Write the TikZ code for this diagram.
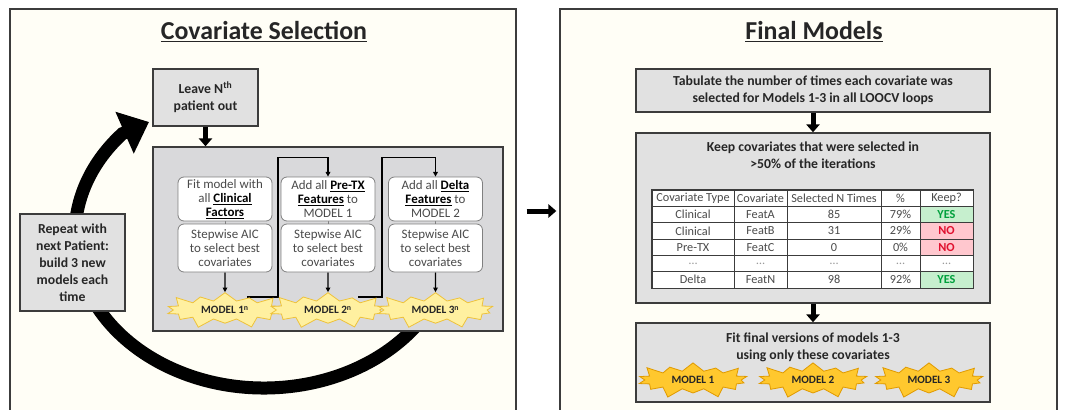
\documentclass[tikz,border=0pt]{standalone}
\usepackage{fontspec}
\setmainfont{Carlito}
\usetikzlibrary{arrows.meta,shapes.symbols,matrix}

\def\px{0.75pt}
\definecolor{panelcream}{HTML}{FFFEF6}
\definecolor{framegray}{HTML}{3C3C3C}
\definecolor{boxgray}{HTML}{E1E1E1}
\definecolor{innergray}{HTML}{D9D9DB}
\definecolor{roundgray}{HTML}{808080}
\definecolor{txtgray}{HTML}{4A4A4A}
\definecolor{paleburst}{HTML}{FFF0A0}
\definecolor{paleedge}{HTML}{EEC23A}
\definecolor{goldburst}{HTML}{FFC82E}
\definecolor{goldedge}{HTML}{E09A00}
\definecolor{yesfill}{HTML}{C6EFCE}
\definecolor{yestext}{HTML}{00A03C}
\definecolor{nofill}{HTML}{FFC7CE}
\definecolor{notext}{HTML}{E0102E}

\pgfdeclarelayer{back}
\pgfdeclarelayer{wires}
\pgfsetlayers{back,wires,main}

\newcommand{\featword}[1]{\textbf{\textcolor{black}{\underline{#1}}}}

\tikzset{
  panel/.style={rectangle, draw=framegray, line width=1pt, fill=panelcream, inner sep=0pt},
  heading/.style={font=\fontsize{19.4}{22}\selectfont\bfseries, text=black!85},
  graybox/.style={rectangle, draw=framegray, line width=1.1pt, fill=boxgray, inner sep=2pt,
    align=center, font=\fontsize{10.3}{12.75}\selectfont\bfseries, text=black!85},
  boldtext/.style={align=center, font=\fontsize{10.3}{12.75}\selectfont\bfseries, text=black!85},
  stepbox/.style={rectangle, draw=roundgray, line width=0.6pt, fill=white, rounded corners=4.5pt,
    minimum width=94*\px, align=center, inner sep=1pt, font=\fontsize{9.7}{10.5}\selectfont, text=txtgray},
  burst/.style={starburst, starburst points=14, starburst point height=8.5pt,
    inner xsep=9.5pt, inner ysep=2pt, line width=0.6pt,
    font=\fontsize{8.4}{10}\selectfont\bfseries, text=black!85},
  paleburst/.style={burst, fill=paleburst, draw=paleedge},
  goldburst/.style={burst, fill=goldburst, draw=goldedge},
  wire/.style={line width=0.8pt, -{Triangle[length=3.5pt,width=3.5pt]}},
  blockarrow/.style={line width=3.75pt, -{Triangle[length=6pt,width=10pt]}},
  looparrow/.style={line width=9.75pt, -{Triangle[length=20pt,width=33pt]}},
  yescell/.style={fill=yesfill, text=yestext, font=\fontsize{9.2}{10}\selectfont\bfseries},
  nocell/.style={fill=nofill, text=notext, font=\fontsize{9.2}{10}\selectfont\bfseries}
}

\begin{document}
\begin{tikzpicture}[x=\px,y=-\px]
\useasboundingbox (0,0) rectangle (1070,410);
\coordinate (loopstart) at (427.7,311.5);
\coordinate (looptip) at (149,122);

\begin{pgfonlayer}{back}
\node[panel, minimum width=506*\px, minimum height=404*\px] (selpanel) at (263,211) {};
\node[panel, minimum width=497*\px, minimum height=404*\px] (finpanel) at (808.5,211) {};
\draw[looparrow] (loopstart) arc[start angle=30, end angle=221.5, x radius=189, y radius=153] -- (looptip);
\node[graybox, fill=innergray, minimum width=350*\px, minimum height=184*\px] (inner) at (328,239) {};
\end{pgfonlayer}

% covariate selection
\node[heading] (seltitle) at (264,32) {\underline{Covariate Selection}};
\node[graybox, minimum width=105*\px, minimum height=57*\px] (leave) at (205.5,97.5) {Leave N\textsuperscript{th}\\patient out};
\node[graybox, minimum width=105*\px, minimum height=97*\px] (repeat) at (72.5,262.5) {Repeat with\\next Patient:\\build 3 new\\models each\\time};

\node[stepbox, minimum height=44*\px] (up1) at (225,199) {Fit model with\\all \featword{Clinical}\\\featword{Factors}};
\node[stepbox, minimum height=44*\px] (up2) at (328,199) {Add all \featword{Pre-TX}\\\featword{Features} to\\MODEL 1};
\node[stepbox, minimum height=44*\px] (up3) at (435.5,199) {Add all \featword{Delta}\\\featword{Features} to\\MODEL 2};
\node[stepbox, minimum height=48*\px] (low1) at (225,248) {Stepwise AIC\\to select best\\covariates};
\node[stepbox, minimum height=48*\px] (low2) at (328,248) {Stepwise AIC\\to select best\\covariates};
\node[stepbox, minimum height=48*\px] (low3) at (435.5,248) {Stepwise AIC\\to select best\\covariates};

\node[paleburst] (burst1) at (225,310) {MODEL 1\textsuperscript{n}};
\node[paleburst] (burst2) at (328,310) {MODEL 2\textsuperscript{n}};
\node[paleburst] (burst3) at (435.5,310) {MODEL 3\textsuperscript{n}};

\draw[blockarrow] (leave.south) -- (leave.south |- inner.north);

\begin{pgfonlayer}{wires}
\foreach \col in {1,2,3}{
  \draw[line width=0.6pt, roundgray] (up\col.south) -- (low\col.north);
  \draw[wire] (low\col) -- (burst\col);
}
\draw[wire] ([xshift=22*\px,yshift=13*\px]burst1.center) -- ++(31,0) |- ([yshift=19*\px]up2.north) -- (up2.north);
\draw[wire] ([xshift=30*\px,yshift=13*\px]burst2.center) -- ++(24,0) |- ([yshift=19*\px]up3.north) -- (up3.north);
\end{pgfonlayer}

\draw[blockarrow, shorten <=10*\px, shorten >=3*\px] (selpanel.east) -- (finpanel.west);

% final models
\node[heading] (fintitle) at (814,32) {\underline{Final Models}};
\node[graybox, minimum width=354*\px, minimum height=43*\px] (tabulate) at (813,90.5) {Tabulate the number of times each covariate was\\selected for Models 1-3 in all LOOCV loops};
\node[graybox, minimum width=354*\px, minimum height=170*\px] (keep) at (813,218) {};
\node[graybox, minimum width=354*\px, minimum height=79*\px] (fit) at (813,362.5) {};
\node[boldtext] (keeptext) at (813,155.5) {Keep covariates that were selected in\\>50\% of the iterations};
\node[boldtext] (fittext) at (813,347) {Fit final versions of models 1-3\\using only these covariates};

\matrix (covtable) [matrix of nodes, inner sep=0pt, column sep=-0.6pt, row sep=-0.6pt,
  nodes={rectangle, draw=framegray, line width=0.6pt, fill=white, minimum height=16.3*\px,
    inner sep=0pt, anchor=center, font=\fontsize{9.2}{10}\selectfont, text=txtgray},
  column 1/.style={nodes={minimum width=82*\px}},
  column 2/.style={nodes={minimum width=53*\px}},
  column 3/.style={nodes={minimum width=94*\px}},
  column 4/.style={nodes={minimum width=39*\px}},
  column 5/.style={nodes={minimum width=53*\px}},
  row 5/.style={nodes={text=black!40}}] at (812.5,239) {
Covariate Type & Covariate & Selected N Times & \% & Keep? \\
Clinical & FeatA & 85 & 79\% & |[yescell]| YES \\
Clinical & FeatB & 31 & 29\% & |[nocell]| NO \\
Pre-TX & FeatC & 0 & 0\% & |[nocell]| NO \\
\ldots & \ldots & \ldots & \ldots & \ldots \\
Delta & FeatN & 98 & 92\% & |[yescell]| YES \\
};
\draw[line width=1pt, framegray] (covtable.north west) rectangle (covtable.south east);

\node[goldburst] (final1) at (693,380) {MODEL 1};
\node[goldburst] (final2) at (813,380) {MODEL 2};
\node[goldburst] (final3) at (929,380) {MODEL 3};

\draw[blockarrow] (tabulate) -- (keep);
\draw[blockarrow] (keep) -- (fit);
\end{tikzpicture}
\end{document}
